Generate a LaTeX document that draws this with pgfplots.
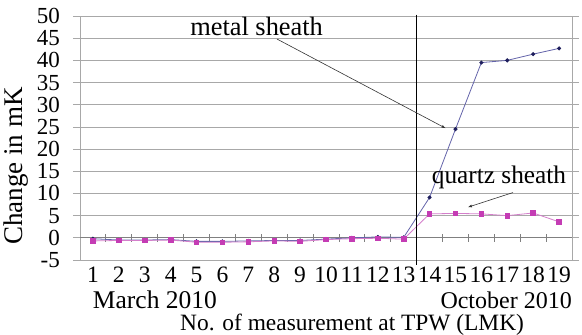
\documentclass[border=0pt]{standalone}
\usepackage{pgfplots}
\pgfplotsset{compat=1.18}
\usetikzlibrary{arrows.meta}
\usepackage{fontspec}
\setmainfont{Liberation Serif}
\definecolor{gridc}{HTML}{A8A8A8}
\definecolor{metaldot}{HTML}{1E1E5C}
\definecolor{metalline}{HTML}{6464AA}
\definecolor{quartzmark}{HTML}{C43CB4}
\definecolor{quartzline}{HTML}{D47FCB}
\begin{document}
\begin{tikzpicture}
\begin{axis}[
  at={(80bp,75bp)}, anchor=south west,
  scale only axis, width=492bp, height=244bp,
  xmin=0.5, xmax=19.5, ymin=-5, ymax=50,
  clip=false,
  axis line style={draw=gridc},
  ytick={-5,0,5,10,15,20,25,30,35,40,45,50},
  yticklabels={-5,0,5,10,15,20,25,30,35,40,45,50},
  xtick={1,...,19},
  /pgf/number format/assume math mode=true,
  ymajorgrids, grid style={draw=gridc, line width=0.8bp},
  tick align=outside,
  ytick style={draw=gridc, line width=0.8bp},
  y tick label style={font=\fontsize{23bp}{25bp}\selectfont, anchor=east, inner sep=0pt, xshift=-13bp},
  x tick label style={font=\fontsize{23.5bp}{25bp}\selectfont, anchor=north, inner sep=0pt, yshift=0bp},
  major tick length=7bp,
  xtick style={draw=none},
  xlabel={No. of measurement at TPW (LMK)},
  xlabel style={font=\fontsize{23.4bp}{26bp}\selectfont, at={(axis description cs:0.553,-0.287)}, anchor=base, inner sep=0pt},
  ylabel={Change in mK},
  ylabel style={font=\fontsize{27bp}{29bp}\selectfont, at={(axis description cs:-0.130,0.385)}, anchor=center, rotate=0, inner sep=0pt},
]
% boundary ticks on the zero line
\pgfplotsinvokeforeach{1.5,2.5,3.5,4.5,5.5,6.5,7.5,8.5,9.5,10.5,11.5,12.5,13.5,14.5,15.5,16.5,17.5,18.5}{
  \draw[gray, line width=0.8bp] (axis cs:#1,-0.9) -- (axis cs:#1,0.9);
}
\draw[gray, line width=0.8bp] (axis cs:0.5,0) -- (axis cs:19.5,0);
% metal sheath
\addplot[color=metalline, line width=0.8bp, mark=*, mark size=1.6bp,
  mark options={fill=metaldot, draw=metaldot}] coordinates {
  (1,-0.2) (2,-0.5) (3,-0.5) (4,-0.4) (5,-0.8) (6,-0.8) (7,-0.7) (8,-0.6) (9,-0.6) (10,-0.3)
  (11,0.0) (12,0.2) (13,0.1) (14,9.1) (15,24.5) (16,39.5) (17,40.0) (18,41.4) (19,42.7)
};
% quartz sheath
\addplot[color=quartzline, line width=0.8bp, mark=square*, mark size=2.3bp,
  mark options={fill=quartzmark, draw=quartzmark}] coordinates {
  (1,-0.7) (2,-0.6) (3,-0.6) (4,-0.5) (5,-1.0) (6,-1.0) (7,-0.9) (8,-0.7) (9,-0.8) (10,-0.4)
  (11,-0.2) (12,-0.1) (13,-0.3) (14,5.4) (15,5.5) (16,5.4) (17,5.0) (18,5.6) (19,3.6)
};
% separator line
\draw[black, line width=1.3bp] (axis cs:13.5,50.3) -- (axis cs:13.5,-6.2);
% annotations
\node[font=\fontsize{26.4bp}{28bp}\selectfont, anchor=base, inner sep=0pt] at (axis cs:7.32,45.7) {metal sheath};
\draw[black!80, line width=0.6bp, -{Latex[length=4bp,width=3bp]}] (axis cs:8.11,44.8) -- (axis cs:14.62,24.7);
\node[font=\fontsize{25.3bp}{27bp}\selectfont, anchor=base, inner sep=0pt] at (axis cs:16.68,12.3) {quartz sheath};
\draw[black!80, line width=0.6bp, -{Latex[length=4bp,width=3bp]}] (axis cs:17.22,10.2) -- (axis cs:15.48,6.9);
\node[font=\fontsize{25.5bp}{27bp}\selectfont, anchor=base west, inner sep=0pt] at (axis description cs:0.026,-0.197) {March 2010};
\node[font=\fontsize{24bp}{26bp}\selectfont, anchor=base east, inner sep=0pt] at (axis description cs:1.0,-0.197) {October 2010};
\end{axis}
\pgfresetboundingbox
\path (0,0) rectangle (582bp,335bp);
\end{tikzpicture}
\end{document}
